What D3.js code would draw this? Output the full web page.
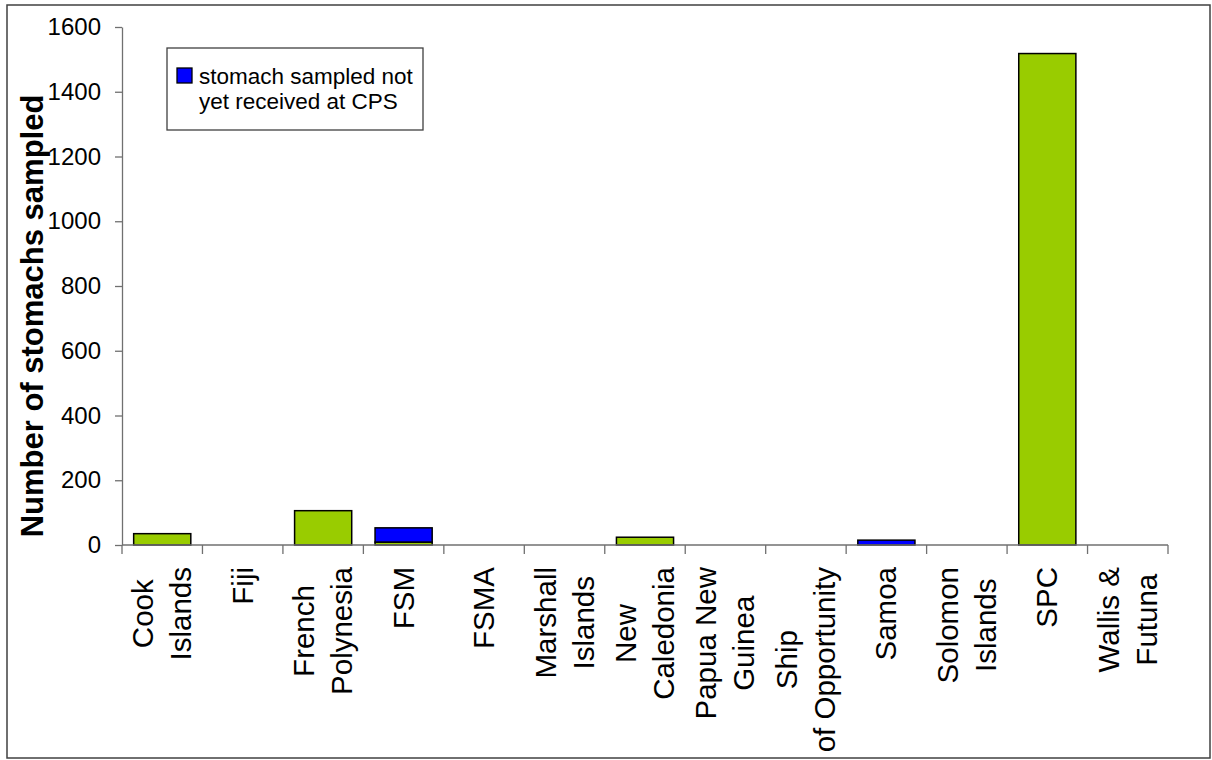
<!DOCTYPE html>
<html>
<head>
<meta charset="utf-8">
<script src="https://cdn.jsdelivr.net/npm/d3@7"></script>
<style>
    body { margin: 0; background: #fff; }
    text { font-family: "Liberation Sans", Arial, sans-serif; fill: #000; }
</style>
</head>
<body>
<script>
//wrap everything in a self-executing anonymous function to move to local scope
(function(){

//chart data
var categories = ["Cook Islands","Fiji","French Polynesia","FSM","FSMA","Marshall Islands",
"New Caledonia","Papua New Guinea","Ship of Opportunity","Samoa","Solomon Islands","SPC","Wallis & Futuna"];
var labelLines = [["Cook","Islands"],["Fiji"],["French","Polynesia"],["FSM"],["FSMA"],["Marshall","Islands"],
["New","Caledonia"],["Papua New","Guinea"],["Ship","of Opportunity"],["Samoa"],["Solomon","Islands"],["SPC"],["Wallis &","Futuna"]];
var received = [35, 0, 106, 9, 0, 0, 24, 0, 0, 0, 0, 1518, 0]; //green series
var notReceived = [0, 0, 0, 44, 0, 0, 0, 0, 0, 15, 0, 0, 0]; //blue series
var yTicks = [0, 200, 400, 600, 800, 1000, 1200, 1400, 1600];
var legendLines = ["stomach sampled not", "yet received at CPS"];
var yTitle = "Number of stomachs sampled";

window.onload = setChart();

function setChart(){
    //frame dimensions
    var width = 1212,
        height = 760,
        left = 122,
        right = 1168,
        top = 27,
        bottom = 545;

    var svg = d3.select("body")
        .append("svg")
        .attr("width", width)
        .attr("height", height);

    //outer chart border
    svg.append("rect")
        .attr("x", 7)
        .attr("y", 5)
        .attr("width", 1203)
        .attr("height", 753)
        .attr("fill", "#fff")
        .attr("stroke", "#404040")
        .attr("stroke-width", 1.5);

    //scales
    var x = d3.scaleBand()
        .domain(categories)
        .range([left, right])
        .paddingInner(0.29)
        .paddingOuter(0.145);

    var y = d3.scaleLinear()
        .domain([0, 1600])
        .range([bottom, top]);

    //stack the two series
    var rows = categories.map(function(c, i){
        return {name: c, received: received[i], notReceived: notReceived[i]};
    });
    var stack = d3.stack().keys(["received", "notReceived"])(rows);
    var colors = {received: "#99CC00", notReceived: "#0000FF"};

    stack.forEach(function(layer){
        svg.selectAll(".bar-" + layer.key)
            .data(layer.filter(function(d){ return d[1] - d[0] > 0; }))
            .enter()
            .append("rect")
            .attr("class", "bar-" + layer.key)
            .attr("x", function(d){ return x(d.data.name); })
            .attr("width", x.bandwidth())
            .attr("y", function(d){ return y(d[1]); })
            .attr("height", function(d){ return y(d[0]) - y(d[1]); })
            .attr("fill", colors[layer.key])
            .attr("stroke", "#000")
            .attr("stroke-width", 1.5);
    });

    //y axis
    var yAxis = svg.append("g")
        .attr("transform", "translate(" + left + ",0)")
        .call(d3.axisLeft(y).tickValues(yTicks).tickFormat(d3.format("d"))
            .tickSize(7).tickPadding(14).tickSizeOuter(0));
    yAxis.selectAll("path, line").attr("stroke", "#707070").attr("stroke-width", 1.3);
    yAxis.selectAll("text")
        .style("font-family", "'Liberation Sans', Arial, sans-serif")
        .style("font-size", "24px")
        .attr("fill", "#000");

    //x axis line and category boundary ticks
    svg.append("line")
        .attr("x1", left)
        .attr("x2", right)
        .attr("y1", y(0))
        .attr("y2", y(0))
        .attr("stroke", "#707070")
        .attr("stroke-width", 1.3);

    var step = x.step();
    svg.selectAll(".xtick")
        .data(d3.range(categories.length + 1))
        .enter()
        .append("line")
        .attr("class", "xtick")
        .attr("x1", function(i){ return left + i * step; })
        .attr("x2", function(i){ return left + i * step; })
        .attr("y1", y(0))
        .attr("y2", y(0) + 9)
        .attr("stroke", "#707070")
        .attr("stroke-width", 1.3);

    //rotated category labels, longest line ends near the axis, lines centred together
    var labels = svg.selectAll(".xlabel")
        .data(categories)
        .enter()
        .append("g")
        .attr("class", "xlabel")
        .attr("transform", function(d){
            return "translate(" + (x(d) + x.bandwidth() / 2) + "," + (y(0) + 22) + ") rotate(-90)";
        });

    labels.each(function(d, i){
        var g = d3.select(this),
            lines = labelLines[i],
            n = lines.length;
        var texts = g.selectAll("text")
            .data(lines)
            .enter()
            .append("text")
            .style("font-size", "29.5px")
            .attr("text-anchor", "middle")
            .attr("y", function(l, k){ return 10 + (k - (n - 1) / 2) * 38; })
            .text(function(l){ return l; });
        var maxLen = d3.max(texts.nodes(), function(t){ return t.getComputedTextLength(); });
        texts.attr("x", -maxLen / 2);
    });

    //y axis title
    svg.append("text")
        .attr("transform", "translate(43,316) rotate(-90)")
        .attr("text-anchor", "middle")
        .style("font-size", "31px")
        .style("font-weight", "bold")
        .text(yTitle);

    //legend
    var legend = svg.append("g");
    legend.append("rect")
        .attr("x", 167)
        .attr("y", 48)
        .attr("width", 256)
        .attr("height", 82)
        .attr("fill", "#fff")
        .attr("stroke", "#404040")
        .attr("stroke-width", 1.3);
    legend.append("rect")
        .attr("x", 177)
        .attr("y", 68)
        .attr("width", 15)
        .attr("height", 15)
        .attr("fill", colors.notReceived)
        .attr("stroke", "#000")
        .attr("stroke-width", 1.3);
    legend.selectAll(".legendText")
        .data(legendLines)
        .enter()
        .append("text")
        .attr("class", "legendText")
        .attr("x", 199)
        .attr("y", function(d, i){ return 84 + i * 25; })
        .style("font-size", "22.5px")
        .text(function(d){ return d; });
};

})();
</script>
</body>
</html>
